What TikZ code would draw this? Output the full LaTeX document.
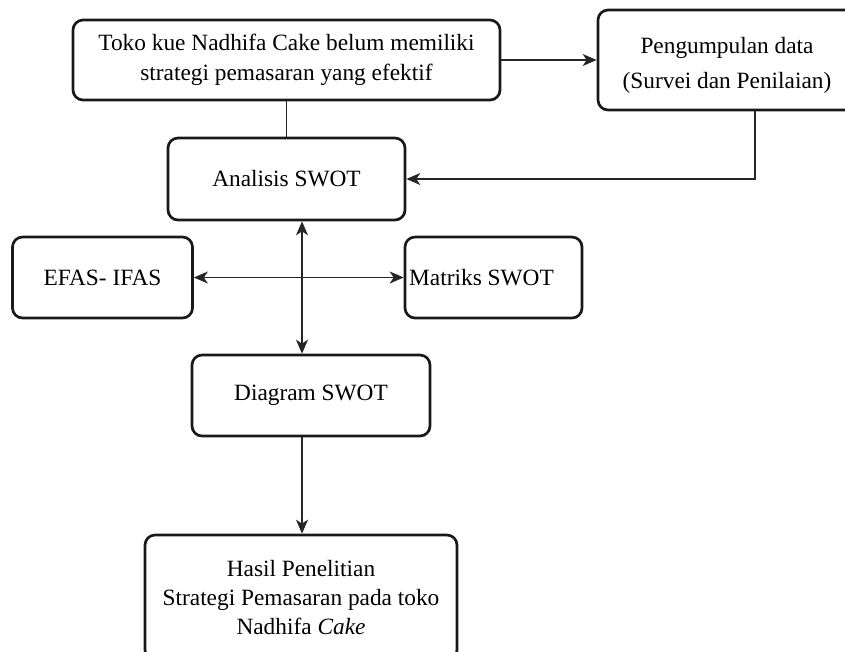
\documentclass[tikz,border=0pt]{standalone}
\usepackage{fontspec}
\setmainfont{Liberation Serif}
\usepackage{tikz}
\usetikzlibrary{arrows.meta}

\begin{document}
\begin{tikzpicture}[
  x=0.75pt, y=-0.75pt,
  font=\fontsize{17.5}{22}\selectfont, >={Stealth[length=10.5pt,width=9pt,inset=3pt]},
  every node/.style={align=center},
  box/.style  = {draw=black!90, rounded corners=7.5pt, line width=2pt,
                 inner sep=2pt},
  link/.style = {line width=1.1pt, black!85},
]
\useasboundingbox (0,0) rectangle (845,651);
\node[box, minimum width=320.25pt, minimum height=60pt]    (prob)    at (286.5, 60)
  {Toko kue Nadhifa Cake belum memiliki\\[0.5pt]strategi pemasaran yang efektif};
\node[box, minimum width=193.5pt,  minimum height=75pt]    (data)    at (727, 60)
  {\rule{0pt}{20pt}Pengumpulan data\\[4pt](Survei dan Penilaian)};
\node[box, minimum width=177.75pt, minimum height=61.5pt]  (swot)    at (286.5, 179) {Analisis SWOT};
\node[box, minimum width=135pt,    minimum height=60.75pt] (efas)    at (102.5, 277.5) {EFAS- IFAS};
\node[box, minimum width=132.75pt, minimum height=60.75pt] (matriks) at (493.5, 277.5) {Matriks SWOT\hspace*{18pt}};
\node[box, minimum width=178.5pt,  minimum height=60.75pt] (diag)    at (311, 395.5) {Diagram SWOT};
\node[box, minimum width=234pt,    minimum height=93.75pt] (hasil)   at (301, 597.5)
  {\fontsize{17.5}{21}\selectfont Hasil Penelitian\\Strategi Pemasaran pada toko\\Nadhifa \textit{Cake}};

\coordinate (cx) at (302, 277.5);
\draw[link] (prob) -- (swot);
\draw[link,->] (prob) -- (data);
\draw[link,->] ([xshift=21pt]data.south) |- (swot.east);
\draw[link,<->] (swot.south -| cx) -- (diag.north -| cx);
\draw[link,<->] (efas) -- (matriks);
\draw[link,->] (diag.south -| cx) -- (hasil.north -| cx);
\end{tikzpicture}
\end{document}
